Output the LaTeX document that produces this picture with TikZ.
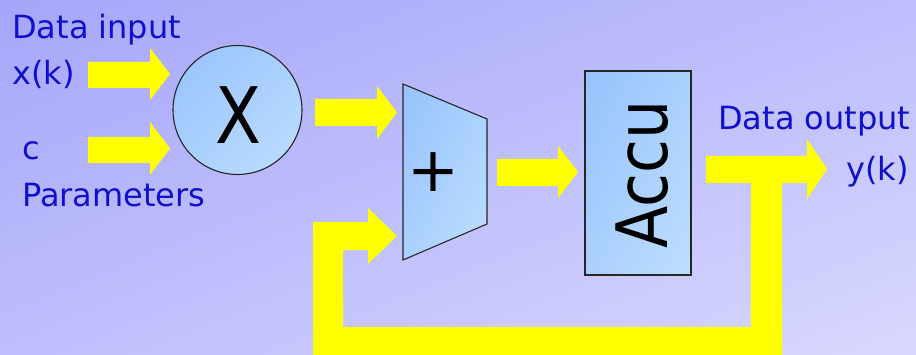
\documentclass[tikz,border=0pt]{standalone}
\usepackage{fontspec}
\setmainfont{DejaVu Sans}
\usetikzlibrary{shadings}
\definecolor{bgA}{RGB}{166,166,250}
\definecolor{bgM}{RGB}{190,190,252}
\definecolor{bgC}{RGB}{216,216,254}
\definecolor{ylw}{RGB}{255,255,0}
\definecolor{txt}{RGB}{16,16,204}
\definecolor{boxA}{RGB}{150,194,252}
\definecolor{boxM}{RGB}{170,208,253}
\definecolor{boxB}{RGB}{190,222,254}
\tikzset{
  bararrow/.style={fill=ylw, draw=none},
  lbl/.style={text=txt, font=\fontsize{32}{38}\selectfont, inner sep=0pt, anchor=base west},
  blockfill/.style={draw=black!85, line width=1.1pt, shade, upper left=boxA, upper right=boxM, lower left=boxM, lower right=boxB},
}
\begin{document}
\begin{tikzpicture}[x=1pt,y=1pt]
\useasboundingbox (0,0) rectangle (916,354);
\shade[upper left=bgA, upper right=bgM, lower left=bgM, lower right=bgC] (0,0) rectangle (916,354);
\clip (0,0) rectangle (916,354);

% labels
\node[lbl] (din) at (12,315) {Data input};
\node[lbl] (xk) at (12,269) {x(k)};
\node[lbl] (c) at (22,194) {c};
\node[lbl] (par) at (22,147) {Parameters};
\node[lbl] (dout) at (718,224) {Data output};
\node[lbl, anchor=base east] (yk) at (909,174) {y(k)};

% yellow block arrows
\fill[bararrow] (88,266) -- (150,266) -- (150,254) -- (170,280) -- (150,306) -- (150,292) -- (88,292) -- cycle;
\fill[bararrow] (88,191) -- (150,191) -- (150,179) -- (170,205.5) -- (150,232) -- (150,217) -- (88,217) -- cycle;
\fill[bararrow] (315,228) -- (377,228) -- (377,215) -- (397,241.5) -- (377,268) -- (377,255) -- (315,255) -- cycle;
\fill[bararrow] (497,168) -- (558,168) -- (558,156) -- (578,182) -- (558,208) -- (558,195) -- (497,195) -- cycle;
\fill[bararrow] (706,171) -- (807,171) -- (807,155) -- (827,185) -- (807,215) -- (807,198) -- (706,198) -- cycle;
\fill[bararrow] (751,171) -- (782,171) -- (782,-10) -- (313,-10) -- (313,132) -- (368,132) -- (368,146) -- (397,118) -- (368,90) -- (368,104) -- (343,104) -- (343,27) -- (751,27) -- cycle;

% multiplier
\node[circle, minimum size=129pt, inner sep=0pt, blockfill] (mul) at (237.5,244) {};
\node[inner sep=0pt, anchor=base, font=\fontsize{78}{80}\selectfont] (mulx) at (238.5,210) {\scalebox{0.86}[1]{X}};

% adder
\draw[blockfill] (403,270) -- (487,235) -- (487,130) -- (403,94) -- cycle;
\node[inner sep=0pt, font=\fontsize{62}{64}\selectfont] (plus) at (433,182) {+};

% accumulator
\node[rectangle, minimum width=106pt, minimum height=204pt, inner sep=0pt, blockfill] (accu) at (638,181) {};
\node[rotate=90, inner sep=0pt, font=\fontsize{71}{74}\selectfont] (accutxt) at (642,179.5) {\scalebox{0.87}[1]{Accu}};
\end{tikzpicture}
\end{document}
